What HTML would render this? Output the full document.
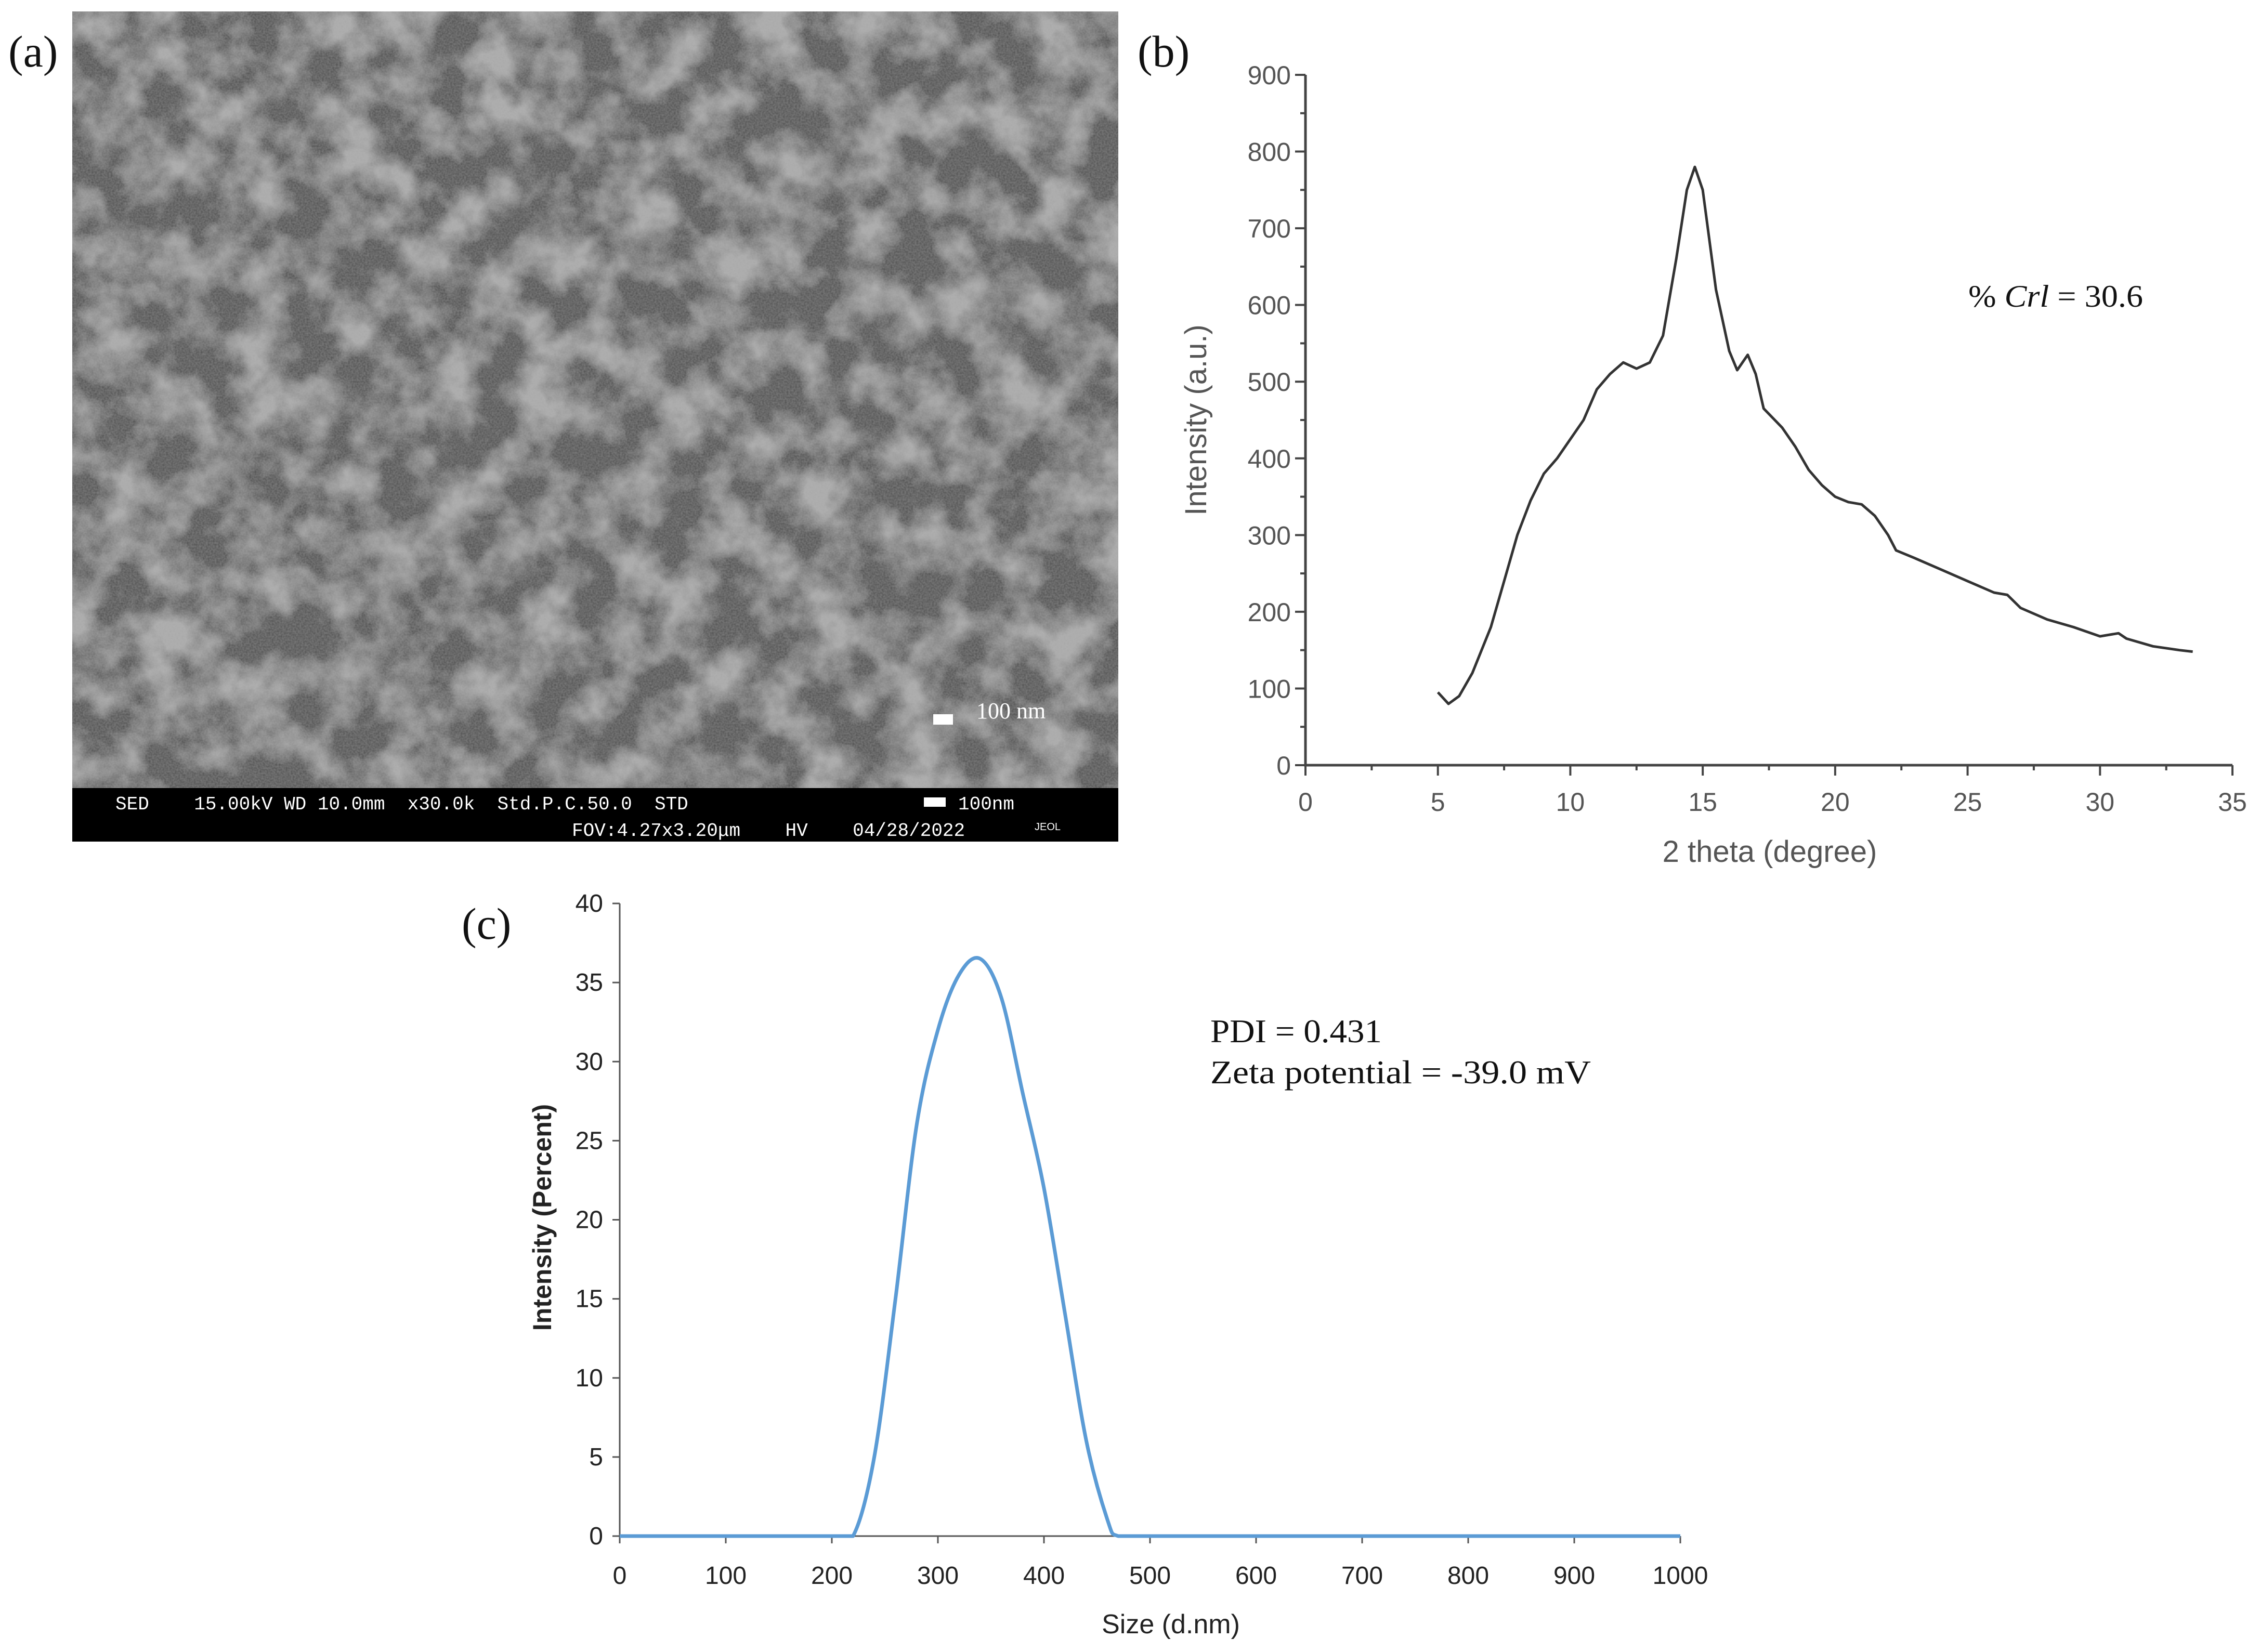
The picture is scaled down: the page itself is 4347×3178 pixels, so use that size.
<!DOCTYPE html>
<html><head><meta charset="utf-8"><style>
html,body{margin:0;padding:0;background:#fff}
svg{display:block}
</style></head><body>
<svg id="fig" width="4347" height="3178" viewBox="0 0 4347 3178" xmlns="http://www.w3.org/2000/svg">
<defs>
<filter id="sem" x="0" y="0" width="100%" height="100%">
<feTurbulence type="fractalNoise" baseFrequency="0.011" numOctaves="4" seed="7" result="n"/>
<feColorMatrix in="n" type="matrix" values="0 0 0 0 0  0 0 0 0 0  0 0 0 0 0  2.6 0 0 0 -0.95" result="a"/>
<feFlood flood-color="#a8a8a8" result="f"/>
<feComposite in="f" in2="a" operator="in" result="light"/>
<feTurbulence type="fractalNoise" baseFrequency="0.3" numOctaves="1" seed="3" result="fine"/>
<feColorMatrix in="fine" type="matrix" values="0 0 0 0 0.55  0 0 0 0 0.55  0 0 0 0 0.55  0 0 0 0.3 0" result="fineA"/>
<feMerge><feMergeNode in="SourceGraphic"/><feMergeNode in="light"/><feMergeNode in="fineA"/></feMerge>
</filter>
</defs>
<!-- panel a -->
<text x="16" y="128" font-family="Liberation Serif, serif" font-size="86" fill="#111">(a)</text>
<g>
<rect x="139" y="22" width="2012" height="1494" fill="#4a4a4a" filter="url(#sem)"/>
<rect x="139" y="1516" width="2012" height="103" fill="#000"/>
<rect x="1795" y="1374" width="38" height="20" fill="#fff"/>
<text x="1878" y="1382" font-family="Liberation Serif, serif" font-size="44" fill="#fff">100 nm</text>
<text font-family="Liberation Mono, monospace" font-size="36" fill="#fff" xml:space="preserve" style="white-space:pre"><tspan x="222" y="1557">SED    15.00kV WD 10.0mm  x30.0k  Std.P.C.50.0  STD</tspan><tspan x="1100" y="1608">FOV:4.27x3.20μm    HV    04/28/2022</tspan><tspan x="1843" y="1557">100nm</tspan></text>
<rect x="1777" y="1534" width="42" height="18" fill="#fff"/>
<text x="1990" y="1597" font-family="Liberation Sans, sans-serif" font-size="20" fill="#fff">JEOL</text>
</g>
<!-- panel b -->
<text x="2188" y="128" font-family="Liberation Serif, serif" font-size="86" fill="#111">(b)</text>
<g id="xrd"></g>
<text x="3786" y="590" font-family="Liberation Serif, serif" font-size="60" fill="#111" textLength="336" lengthAdjust="spacingAndGlyphs">% <tspan font-style="italic">Crl</tspan> = 30.6</text>
<!-- panel c -->
<text x="888" y="1806" font-family="Liberation Serif, serif" font-size="86" fill="#111">(c)</text>
<g id="dls"></g>
<text x="2328" y="2005" font-family="Liberation Serif, serif" font-size="64" fill="#111" textLength="330" lengthAdjust="spacingAndGlyphs">PDI = 0.431</text>
<text x="2328" y="2084" font-family="Liberation Serif, serif" font-size="64" fill="#111" textLength="732" lengthAdjust="spacingAndGlyphs">Zeta potential =  -39.0 mV</text>
</svg>
<script>
const NS='http://www.w3.org/2000/svg';
// XRD data
const xrdTheta=[5.0,5.4,5.8,6.3,7,7.5,8,8.5,9,9.5,10,10.5,11,11.5,12,12.5,13,13.5,14,14.4,14.7,15,15.5,16,16.3,16.7,17,17.3,18,18.5,19,19.5,20,20.5,21,21.5,22,22.3,23,24,25,26,26.5,27,28,29,30,30.7,31,32,33,33.5];
const xrdIntensity=[95,80,90,120,180,240,300,345,380,400,425,450,490,510,525,517,525,560,660,750,780,750,620,540,515,535,510,465,440,415,385,365,350,343,340,325,300,280,270,255,240,225,222,205,190,180,168,172,165,155,150,148];
const xrdXTicks=[0,5,10,15,20,25,30,35];
const xrdYTicks=[0,100,200,300,400,500,600,700,800,900];
// DLS data
const dlsSize=[0,100,200,220,240,260,280,300,320,340,360,380,400,420,440,460,470,500,600,700,800,900,1000];
const dlsIntensity=[0,0,0,0,5,15,26,32,35.5,36.5,34,28,22,14,6,1,0,0,0,0,0,0,0];
const dlsXTicks=[0,100,200,300,400,500,600,700,800,900,1000];
const dlsYTicks=[0,5,10,15,20,25,30,35,40];

function mk(tag,attrs,parent,txt){const e=document.createElementNS(NS,tag);for(const k in attrs)e.setAttribute(k,attrs[k]);if(txt!==undefined)e.textContent=txt;parent.appendChild(e);return e;}

// XRD chart
(function(){
 const g=document.getElementById('xrd');
 const X=v=>2511+(v-0)/35*(4294-2511), Y=v=>1472-(v/900)*(1472-144);
 const c='#555';
 const ax=mk('path',{d:`M${X(0)} ${Y(900)} V${Y(0)} H${X(35)}`,stroke:'#444','stroke-width':5,fill:'none'},g);
 
 
 for(let v=0;v<=900;v+=50){mk('line',{x1:X(0),x2:X(0)-(v%100===0?20:10),y1:Y(v),y2:Y(v),stroke:'#444','stroke-width':4},g);}
 for(let v=0;v<=35;v+=2.5){mk('line',{x1:X(v),x2:X(v),y1:Y(0),y2:Y(0)+(v%5===0?20:10),stroke:'#444','stroke-width':4},g);}
 xrdYTicks.forEach(v=>{const t=mk('text',{x:X(0)-28,y:Y(v)+18,'text-anchor':'end','font-family':'Liberation Sans, sans-serif','font-size':50,fill:c},g,String(v));
  
  });
 xrdXTicks.forEach(v=>{const t=mk('text',{x:X(v),y:Y(0)+88,'text-anchor':'middle','font-family':'Liberation Sans, sans-serif','font-size':50,fill:c},g,String(v));
  
  });
 const xt=mk('text',{x:3404,y:1658,'text-anchor':'middle','font-family':'Liberation Sans, sans-serif','font-size':58,fill:c},g,'2 theta (degree)');
 
 
 const yt=mk('text',{x:0,y:0,transform:'translate(2320,808) rotate(-90)','text-anchor':'middle','font-family':'Liberation Sans, sans-serif','font-size':58,fill:c},g,'Intensity (a.u.)');
 
 
 const d=xrdTheta.map((t,i)=>(i?'L':'M')+X(t).toFixed(1)+' '+Y(xrdIntensity[i]).toFixed(1)).join(' ');
 const p=mk('path',{d:d,stroke:'#333','stroke-width':5,fill:'none','stroke-linejoin':'round'},g);
 
 
})();

// DLS chart
(function(){
 const g=document.getElementById('dls');
 const X=v=>1192+v/1000*(3232-1192), Y=v=>2955-v/40*(2955-1738);
 const c='#222';
 const ax=mk('path',{d:`M${X(0)} ${Y(40)} V${Y(0)} H${X(1000)}`,stroke:'#555','stroke-width':3,fill:'none'},g);
 
 
 const fnt='Liberation Sans Narrow, Liberation Sans, sans-serif';
 dlsYTicks.forEach(v=>{mk('line',{x1:X(0)-14,x2:X(0),y1:Y(v),y2:Y(v),stroke:'#555','stroke-width':3},g);
  const t=mk('text',{x:X(0)-32,y:Y(v)+16,'text-anchor':'end','font-family':fnt,'font-size':48,fill:c},g,String(v));
  
  });
 dlsXTicks.forEach(v=>{mk('line',{x1:X(v),x2:X(v),y1:Y(0),y2:Y(0)+14,stroke:'#555','stroke-width':3},g);
  const t=mk('text',{x:X(v),y:Y(0)+92,'text-anchor':'middle','font-family':fnt,'font-size':48,fill:c},g,String(v));
  
  });
 const xt=mk('text',{x:2252,y:3142,'text-anchor':'middle','font-family':fnt,'font-size':52,fill:c},g,'Size (d.nm)');
 
 
 const yt=mk('text',{x:0,y:0,transform:'translate(1060,2342) rotate(-90)','text-anchor':'middle','font-family':'Liberation Sans, sans-serif','font-weight':'bold','font-size':50,fill:c},g,'Intensity (Percent)');
 
 
 const pts=dlsSize.map((s,i)=>[X(s),Y(dlsIntensity[i])]);
 let d='M'+pts[0][0]+' '+pts[0][1];
 for(let i=0;i<pts.length-1;i++){const p0=pts[Math.max(0,i-1)],p1=pts[i],p2=pts[i+1],p3=pts[Math.min(pts.length-1,i+2)];
  const c1=[p1[0]+(p2[0]-p0[0])/6,p1[1]+(p2[1]-p0[1])/6],c2=[p2[0]-(p3[0]-p1[0])/6,p2[1]-(p3[1]-p1[1])/6];
  if(dlsIntensity[i]===0&&dlsIntensity[i+1]===0){d+=` L${p2[0]} ${p2[1]}`;}
  else d+=` C${c1[0].toFixed(1)} ${Math.min(c1[1],Y(0)).toFixed(1)} ${c2[0].toFixed(1)} ${Math.min(c2[1],Y(0)).toFixed(1)} ${p2[0].toFixed(1)} ${p2[1].toFixed(1)}`;}
 const p=mk('path',{d:d,stroke:'#5b9bd5','stroke-width':7,fill:'none','stroke-linejoin':'round'},g);
 
 
})();
</script>
</body></html>
